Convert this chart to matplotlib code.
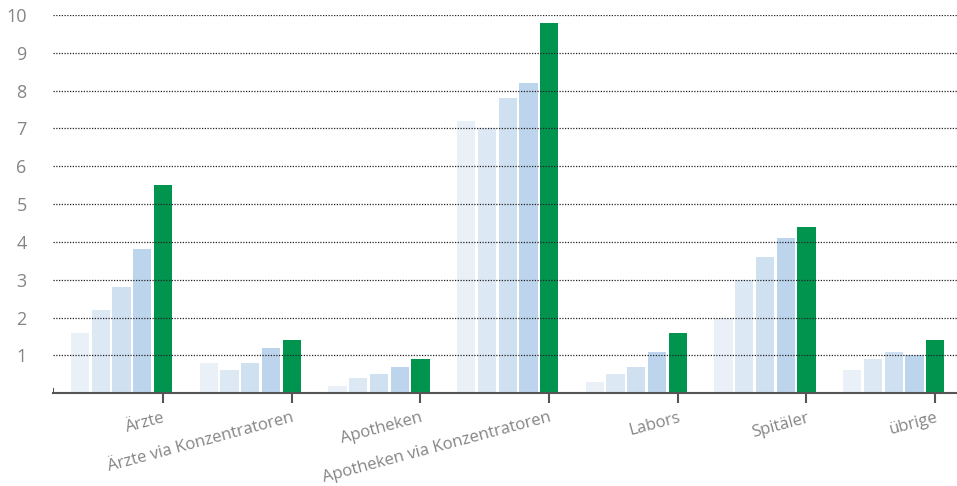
import matplotlib
matplotlib.use("Agg")
import matplotlib.pyplot as plt
import numpy as np
from matplotlib import font_manager

categories = ["Ärzte", "Ärzte via Konzentratoren", "Apotheken",
              "Apotheken via Konzentratoren", "Labors", "Spitäler", "übrige"]
series_1 = [1.6, 0.8, 0.2, 7.2, 0.3, 2.0, 0.6]
series_2 = [2.2, 0.6, 0.4, 7.0, 0.5, 3.0, 0.9]
series_3 = [2.8, 0.8, 0.5, 7.8, 0.7, 3.6, 1.1]
series_4 = [3.8, 1.2, 0.7, 8.2, 1.1, 4.1, 1.0]
series_5 = [5.5, 1.4, 0.9, 9.8, 1.6, 4.4, 1.4]
yticks = list(range(1, 11))

avail = {f.name for f in font_manager.fontManager.ttflist}
fams = [f for f in ["Liberation Sans Narrow", "Open Sans", "DejaVu Sans"] if f in avail]
plt.rcParams['font.family'] = fams

colors = ['#E9F0F8', '#DDE8F5', '#CFE0F1', '#BDD5EC', '#00944F']
series = [series_1, series_2, series_3, series_4, series_5]

fig = plt.figure(figsize=(9.57, 4.86), dpi=100)
ax = fig.add_axes([0.0554, 0.191, 0.9446, 0.778])

x = np.arange(len(categories))
pitch = 0.161
width = 0.142
for j, (vals, c) in enumerate(zip(series, colors)):
    ax.bar(x + (j - 4) * pitch, vals, width=width, color=c, zorder=1)

ax.set_ylim(0, 10)
ax.set_xlim(-0.855, 6.17)
ax.set_yticks(yticks)
ax.set_yticklabels([str(v) for v in yticks])
for v in yticks:
    ax.axhline(v, color='#222222', lw=0.9, ls=(0, (1, 1.2)), zorder=2)

for s in ['left', 'right', 'top']:
    ax.spines[s].set_visible(False)
ax.spines['bottom'].set_color('#555555')
ax.spines['bottom'].set_linewidth(1.5)
ax.spines['bottom'].set_zorder(3)
# small upturned end of the axis line at the left
ax.axvline(ax.get_xlim()[0], ymin=0, ymax=0.012, color='#555555', lw=1.5, zorder=3)

ax.tick_params(axis='y', length=0, labelsize=13, labelcolor='#858585', pad=19)
for lab in ax.get_yticklabels():
    lab.set_horizontalalignment('right')
ax.tick_params(axis='x', direction='out', length=7, width=1.5, color='#555555',
               labelsize=12, labelcolor='#858585', pad=5)
ax.set_xticks(x)
ax.set_xticklabels(categories, rotation=15, ha='right', rotation_mode='anchor')

fig.savefig("out.png", dpi=100)
